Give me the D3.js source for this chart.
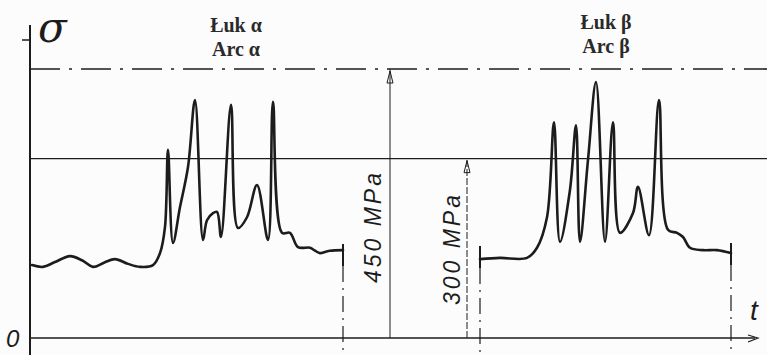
<!DOCTYPE html>
<html><head><meta charset="utf-8">
<script src="https://cdn.jsdelivr.net/npm/d3@7"></script>
<style>html,body{margin:0;padding:0;background:#fcfcfc;}svg{display:block;}</style>
</head><body>
<svg id="c" width="767" height="355"></svg>
<script>
// ---- data (time in arbitrary units, stress in MPa) ----
const alphaT = [2, 13, 25, 40, 52, 63, 74, 85, 98, 110, 123, 130, 135, 138, 143, 150, 158, 165, 173, 177, 183, 187, 191, 201, 208, 217, 227, 238, 243, 252, 260, 268, 280, 285, 290, 295, 300, 313];
const alphaS = [122, 119, 127, 137, 130, 119, 126, 132, 124, 119, 122, 142, 186, 315, 159, 219, 286, 398, 164, 197, 209, 211, 169, 390, 184, 202, 256, 164, 395, 176, 176, 152, 151, 146, 142, 144, 146, 147];
const betaT = [450, 470, 497, 507, 517, 524, 530, 540, 546, 550, 558, 566, 575, 583, 590, 603, 608, 619, 629, 638, 647, 653, 660, 673, 687, 701];
const betaS = [132, 134, 134, 151, 202, 361, 161, 248, 356, 161, 298, 428, 161, 361, 176, 209, 253, 172, 398, 181, 176, 169, 151, 147, 147, 142];
const levelValues = [450, 300];
const levelLabels = ["450 MPa", "300 MPa"];
const levelArrowT = [360, 437];
const arcNames = ["Łuk α", "Łuk β"];
const arcNamesEn = ["Arc α", "Arc β"];
const arcLabelT = [206, 576];
const arcEndsT = [313, 450, 701];

const svg = d3.select("#c");
const ink = "#1c1c1c";
const x = d3.scaleLinear().domain([0, 725]).range([30, 755]);
const y = d3.scaleLinear().domain([0, 450]).range([338, 69]);

// level lines
svg.append("line").attr("x1", 30).attr("x2", 767).attr("y1", y(450)).attr("y2", y(450))
  .attr("stroke", ink).attr("stroke-width", 1.6).attr("stroke-dasharray", "30,9,3,9");
svg.append("line").attr("x1", 30).attr("x2", 767).attr("y1", y(300)).attr("y2", y(300))
  .attr("stroke", ink).attr("stroke-width", 1.3);

// axes
svg.append("line").attr("x1", 30).attr("x2", 30).attr("y1", 25).attr("y2", 355)
  .attr("stroke", ink).attr("stroke-width", 2);
svg.append("line").attr("x1", 22).attr("x2", 30).attr("y1", 40).attr("y2", 40)
  .attr("stroke", ink).attr("stroke-width", 1.5);
svg.append("line").attr("x1", 30).attr("x2", x(725)).attr("y1", y(0)).attr("y2", y(0))
  .attr("stroke", ink).attr("stroke-width", 1.5);
svg.append("path").attr("d", `M${x(718)},${y(0)-3} L${x(728)},${y(0)} L${x(718)},${y(0)+4}`)
  .attr("fill", "none").attr("stroke", ink).attr("stroke-width", 1.2);

// vertical arrows for levels
levelValues.forEach((v, i) => {
  const xx = x(levelArrowT[i]);
  svg.append("line").attr("x1", xx).attr("x2", xx).attr("y1", y(0)).attr("y2", y(v))
    .attr("stroke", ink).attr("stroke-width", 1)
    .attr("stroke-dasharray", i === 0 ? null : "7,2");
  svg.append("path").attr("d", `M${xx-3},${y(v)+14} L${xx},${y(v)+2} L${xx+3},${y(v)+14} Z`)
    .attr("fill", "none").attr("stroke", ink).attr("stroke-width", 1);
  svg.append("text")
    .attr("transform", `translate(${xx - (i === 0 ? 9 : 7)},${i === 0 ? 228 : 250}) rotate(-90)`)
    .attr("text-anchor", "middle")
    .attr("font-family", "Liberation Sans, Arial, sans-serif").attr("font-style", "italic")
    .attr("font-size", 23).attr("fill", ink)
    .attr("textLength", 110).attr("lengthAdjust", "spacing")
    .text(levelLabels[i]);
});

// dashed end lines of arcs
const endTop = [244, 246, 243];
arcEndsT.forEach((t, i) => {
  const xx = x(t);
  svg.append("line").attr("x1", xx).attr("x2", xx).attr("y1", endTop[i]).attr("y2", endTop[i] + 22)
    .attr("stroke", ink).attr("stroke-width", 2);
  svg.append("line").attr("x1", xx).attr("x2", xx).attr("y1", endTop[i] + 22).attr("y2", 354)
    .attr("stroke", ink).attr("stroke-width", 1.2).attr("stroke-dasharray", "16,6,2,6");
});

// curves
const line = d3.line().x(d => x(d[0])).y(d => y(d[1])).curve(d3.curveCatmullRom.alpha(0.5));
[[alphaT, alphaS], [betaT, betaS]].forEach(([T, S]) => {
  svg.append("path").datum(T.map((t, k) => [t, S[k]]))
    .attr("d", line).attr("fill", "none").attr("stroke", ink)
    .attr("stroke-width", 2.6).attr("stroke-linejoin", "round").attr("stroke-linecap", "round");
});

// arc labels
arcNames.forEach((n, i) => {
  const g = svg.append("g").attr("font-family", "Liberation Serif, Times New Roman, serif")
    .attr("font-weight", "bold").attr("font-size", 20).attr("fill", "#2a2a2a").attr("text-anchor", "middle");
  g.append("text").attr("x", x(arcLabelT[i])).attr("y", i === 0 ? 32 : 29).text(n);
  g.append("text").attr("x", x(arcLabelT[i])).attr("y", i === 0 ? 56 : 53).text(arcNamesEn[i]);
});

// axis symbols
svg.append("text").attr("x", 38).attr("y", 42).attr("font-family", "DejaVu Serif, serif")
  .attr("font-style", "italic").attr("font-size", 42).attr("fill", ink).text("σ");
svg.append("text").attr("x", 6).attr("y", 347).attr("font-family", "Liberation Sans, Arial, sans-serif")
  .attr("font-style", "italic").attr("font-size", 24).attr("fill", ink).text("0");
svg.append("text").attr("x", 750).attr("y", 320).attr("font-family", "Liberation Sans, Arial, sans-serif")
  .attr("font-style", "italic").attr("font-size", 28).attr("fill", ink).text("t");
</script>
</body></html>
